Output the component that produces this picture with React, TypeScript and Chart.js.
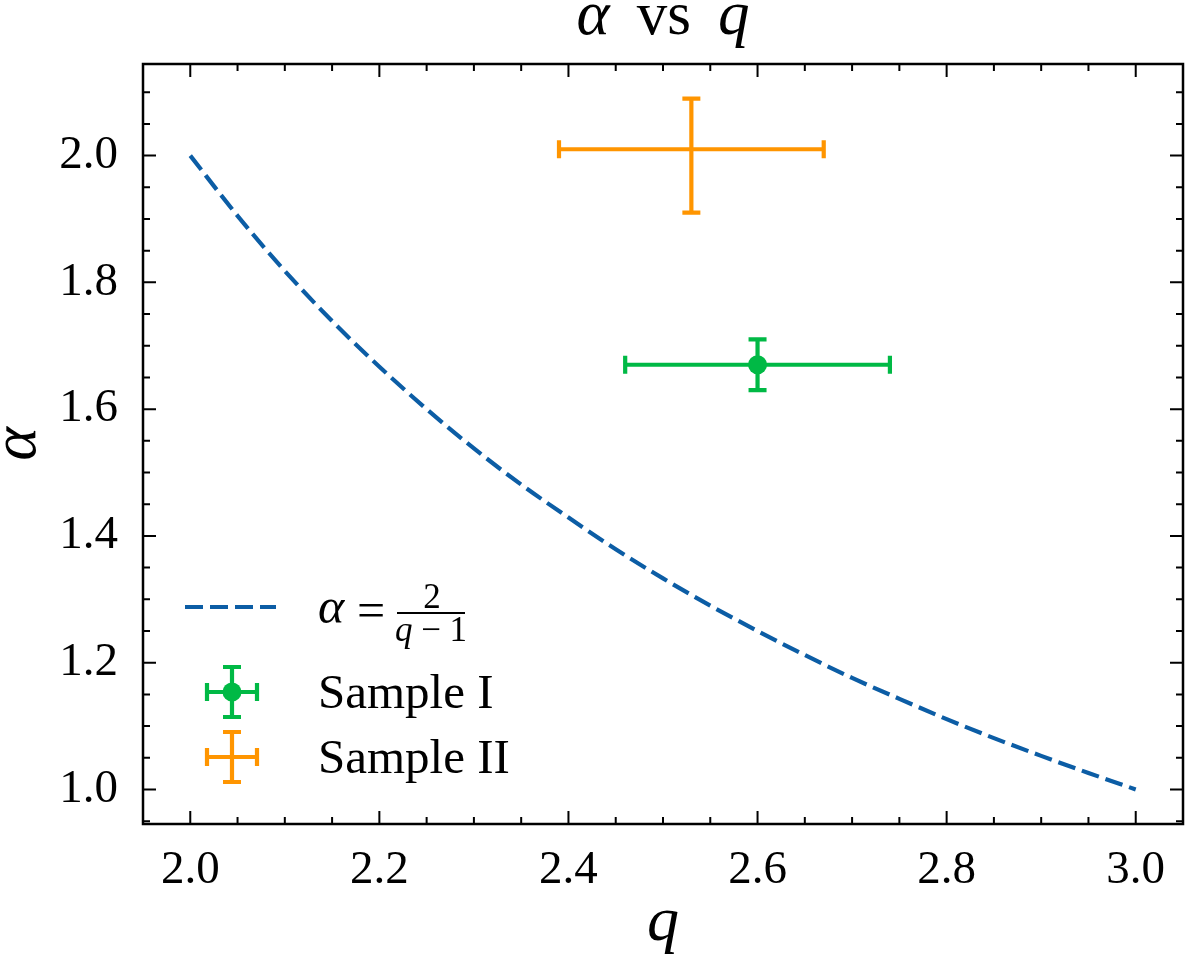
import { useEffect, useRef } from 'react';
import Chart from 'chart.js/auto';

// alpha = 2/(q-1) curve
const curveQ = [2.0, 2.05, 2.1, 2.15, 2.2, 2.25, 2.3, 2.35, 2.4, 2.45, 2.5, 2.55, 2.6, 2.65, 2.7, 2.75, 2.8, 2.85, 2.9, 2.95, 3.0];
const curveAlpha = [2.0, 1.905, 1.818, 1.739, 1.667, 1.6, 1.538, 1.481, 1.429, 1.379, 1.333, 1.29, 1.25, 1.212, 1.176, 1.143, 1.111, 1.081, 1.053, 1.026, 1.0];

// measured samples
const sampleNames = ['Sample I', 'Sample II'];
const sampleQ = [2.6, 2.53];
const sampleAlpha = [1.67, 2.01];
const sampleQErr = [0.14, 0.14];
const sampleAlphaErrLow = [0.04, 0.1];
const sampleAlphaErrHigh = [0.04, 0.08];

const xMajor = [2.0, 2.2, 2.4, 2.6, 2.8, 3.0];
const xMinor = [1.95, 2.05, 2.1, 2.15, 2.25, 2.3, 2.35, 2.45, 2.5, 2.55, 2.65, 2.7, 2.75, 2.85, 2.9, 2.95, 3.05];
const yMajor = [1.0, 1.2, 1.4, 1.6, 1.8, 2.0];
const yMinor = [0.95, 1.05, 1.1, 1.15, 1.25, 1.3, 1.35, 1.45, 1.5, 1.55, 1.65, 1.7, 1.75, 1.85, 1.9, 1.95, 2.05, 2.1];

const BLUE = '#0C5DA5';
const GREEN = '#00B945';
const ORANGE = '#FF9500';
const sampleColors = [GREEN, ORANGE];
const FONT = '"Liberation Serif", "DejaVu Serif", serif';

function errGlyph(ctx: CanvasRenderingContext2D, x: number, y: number, l: number, r: number, t: number, b: number, color: string) {
  const cap = 9;
  ctx.save();
  ctx.strokeStyle = color;
  ctx.lineWidth = 4.2;
  ctx.lineCap = 'butt';
  ctx.beginPath();
  ctx.moveTo(l, y); ctx.lineTo(r, y);
  ctx.moveTo(x, t); ctx.lineTo(x, b);
  ctx.moveTo(l, y - cap); ctx.lineTo(l, y + cap);
  ctx.moveTo(r, y - cap); ctx.lineTo(r, y + cap);
  ctx.moveTo(x - cap, t); ctx.lineTo(x + cap, t);
  ctx.moveTo(x - cap, b); ctx.lineTo(x + cap, b);
  ctx.stroke();
  ctx.restore();
}

const sciPlugin = {
  id: 'sciStyle',
  beforeDatasetsDraw(chart: any) {
    const { ctx, scales } = chart;
    const xs = scales.x, ys = scales.y;
    sampleQ.forEach((q, i) => {
      errGlyph(
        ctx,
        xs.getPixelForValue(q), ys.getPixelForValue(sampleAlpha[i]),
        xs.getPixelForValue(q - sampleQErr[i]), xs.getPixelForValue(q + sampleQErr[i]),
        ys.getPixelForValue(sampleAlpha[i] + sampleAlphaErrHigh[i]), ys.getPixelForValue(sampleAlpha[i] - sampleAlphaErrLow[i]),
        sampleColors[i],
      );
    });
  },
  afterDraw(chart: any) {
    const { ctx, chartArea: a, scales } = chart;
    const xs = scales.x, ys = scales.y;
    ctx.save();
    // frame
    ctx.strokeStyle = '#000';
    ctx.lineWidth = 2.5;
    ctx.strokeRect(a.left, a.top, a.right - a.left, a.bottom - a.top);
    // inward ticks on all sides
    ctx.lineWidth = 2;
    ctx.beginPath();
    const xt = (vals: number[], len: number) => vals.forEach((v) => {
      const p = xs.getPixelForValue(v);
      ctx.moveTo(p, a.bottom); ctx.lineTo(p, a.bottom - len);
      ctx.moveTo(p, a.top); ctx.lineTo(p, a.top + len);
    });
    const yt = (vals: number[], len: number) => vals.forEach((v) => {
      const p = ys.getPixelForValue(v);
      ctx.moveTo(a.left, p); ctx.lineTo(a.left + len, p);
      ctx.moveTo(a.right, p); ctx.lineTo(a.right - len, p);
    });
    xt(xMajor, 13); xt(xMinor, 7); yt(yMajor, 13); yt(yMinor, 7);
    ctx.stroke();

    ctx.fillStyle = '#000';
    ctx.textBaseline = 'alphabetic';
    // title: alpha vs q, math-style spacing
    const cx = (a.left + a.right) / 2;
    const gap = 27;
    const parts: [string, string][] = [['italic 63px ' + FONT, 'α'], ['61px ' + FONT, 'vs'], ['italic 63px ' + FONT, 'q']];
    let total = gap * (parts.length - 1);
    parts.forEach(([f, s]) => { ctx.font = f; total += ctx.measureText(s).width; });
    let px = cx - total / 2;
    parts.forEach(([f, s]) => { ctx.font = f; ctx.fillText(s, px, 34); px += ctx.measureText(s).width + gap; });

    // axis labels
    ctx.font = 'italic 64px ' + FONT;
    ctx.textAlign = 'center';
    ctx.fillText('q', cx, 940);
    ctx.save();
    ctx.translate(35, (a.top + a.bottom) / 2);
    ctx.rotate(-Math.PI / 2);
    ctx.fillText('α', 0, 0);
    ctx.restore();

    // legend
    ctx.textAlign = 'left';
    ctx.save();
    ctx.strokeStyle = BLUE;
    ctx.lineWidth = 4.2;
    ctx.setLineDash([18, 7]);
    ctx.beginPath();
    ctx.moveTo(185, 607); ctx.lineTo(276, 607);
    ctx.stroke();
    ctx.restore();

    ctx.font = 'italic 50px ' + FONT;
    ctx.fillText('α', 318, 623);
    ctx.font = '50px ' + FONT;
    ctx.fillText('=', 357, 627);
    ctx.lineWidth = 2;
    ctx.beginPath();
    ctx.moveTo(397, 613); ctx.lineTo(465, 613);
    ctx.stroke();
    ctx.textAlign = 'center';
    ctx.font = '35px ' + FONT;
    ctx.fillText('2', 432, 608);
    ctx.font = 'italic 35px ' + FONT;
    const qw = ctx.measureText('q').width;
    ctx.font = '35px ' + FONT;
    const rest = ' − 1';
    const rw = ctx.measureText(rest).width;
    const dx = 431 - (qw + rw) / 2;
    ctx.textAlign = 'left';
    ctx.font = 'italic 35px ' + FONT;
    ctx.fillText('q', dx, 641);
    ctx.font = '35px ' + FONT;
    ctx.fillText(rest, dx + qw, 641);

    const rowsY = [692, 757];
    sampleNames.forEach((name, i) => {
      const y = rowsY[i];
      errGlyph(ctx, 232, y, 207, 257, y - 25, y + 25, sampleColors[i]);
      if (i === 0) {
        ctx.fillStyle = GREEN;
        ctx.beginPath();
        ctx.arc(232, y, 9.5, 0, Math.PI * 2);
        ctx.fill();
      }
      ctx.fillStyle = '#000';
      ctx.font = '49px ' + FONT;
      ctx.fillText(name, 318, y + 16);
    });
    ctx.restore();
  },
};

const App = () => {
  const canvasRef = useRef<HTMLCanvasElement>(null);

  useEffect(() => {
    if (!canvasRef.current) return;
    Chart.defaults.font.family = FONT;
    Chart.defaults.color = '#000';

    const chart = new Chart(canvasRef.current, {
      type: 'scatter',
      data: {
        datasets: [
          {
            label: 'α = 2/(q − 1)',
            data: curveQ.map((q, i) => ({ x: q, y: curveAlpha[i] })),
            showLine: true,
            borderColor: BLUE,
            borderWidth: 4.2,
            borderDash: [18, 7],
            cubicInterpolationMode: 'monotone',
            pointRadius: 0,
            fill: false,
          },
          ...sampleNames.map((name, i) => ({
            label: name,
            data: [{ x: sampleQ[i], y: sampleAlpha[i] }],
            pointRadius: i === 0 ? 9.5 : 0,
            pointHoverRadius: i === 0 ? 9.5 : 0,
            backgroundColor: sampleColors[i],
            borderColor: sampleColors[i],
            borderWidth: 0,
          })),
        ],
      },
      options: {
        animation: false,
        responsive: false,
        events: [],
        layout: { padding: { top: 64, right: 17, left: 0, bottom: 0 } },
        plugins: {
          legend: { display: false },
          title: { display: false },
          tooltip: { enabled: false },
        },
        scales: {
          x: {
            type: 'linear',
            min: 1.95,
            max: 3.05,
            grid: { display: false },
            border: { display: false },
            afterBuildTicks: (s: any) => { s.ticks = xMajor.map((v) => ({ value: v })); },
            afterFit: (s: any) => { s.height = 141; },
            ticks: {
              callback: (v: any) => Number(v).toFixed(1),
              font: { size: 47 },
              color: '#000',
              padding: 10,
              maxRotation: 0,
              autoSkip: false,
            },
          },
          y: {
            type: 'linear',
            min: 0.9455,
            max: 2.1445,
            grid: { display: false },
            border: { display: false },
            afterBuildTicks: (s: any) => { s.ticks = yMajor.map((v) => ({ value: v })); },
            afterFit: (s: any) => { s.width = 143; },
            ticks: {
              callback: (v: any) => Number(v).toFixed(1),
              font: { size: 47 },
              color: '#000',
              padding: 17,
              autoSkip: false,
            },
          },
        },
      },
      plugins: [sciPlugin],
    } as any);

    return () => {
      chart.destroy();
    };
  }, []);

  return (
    <div style={{ position: 'absolute', left: 0, top: 0, width: 1200, height: 965, background: '#fff' }}>
      <canvas ref={canvasRef} width={1200} height={965} />
    </div>
  );
};

export default App;
